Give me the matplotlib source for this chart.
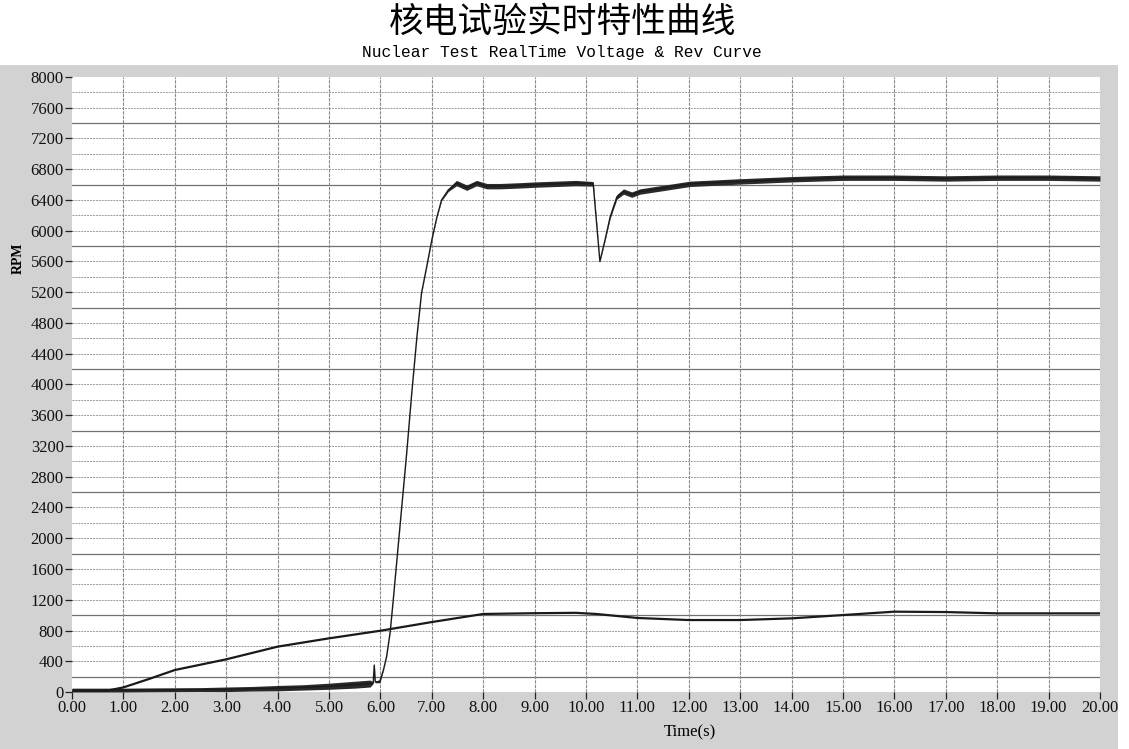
#! /usr/bin/env python3

import numpy as np
import matplotlib
matplotlib.use("Agg")
import matplotlib.pyplot as plt
from matplotlib.patches import Rectangle

# rev curve (RPM): centre of the trace and half-width of its noise band
rev_t = [0.0, 0.5, 1.0, 1.5, 2.0, 2.5, 3.0, 3.5, 4.0, 4.5,
         5.0, 5.5, 5.8, 5.86, 5.88, 5.90, 5.99, 6.06, 6.12, 6.19,
         6.25, 6.41, 6.51, 6.61, 6.71, 6.80, 6.90, 7.00, 7.10, 7.19,
         7.32, 7.48, 7.68, 7.87, 8.07, 8.33, 8.7, 9.0, 9.4, 9.8,
         10.14, 10.27, 10.37, 10.47, 10.60, 10.73, 10.89, 11.05, 11.44, 12.02,
         12.93, 14.0, 15.0, 16.0, 17.0, 18.0, 19.0, 20.0]
rev = [25, 25, 25, 28, 30, 32, 35, 42, 50, 60,
       75, 95, 110, 120, 350, 130, 140, 290, 460, 780,
       1200, 2370, 3100, 3890, 4620, 5190, 5530, 5880, 6180, 6400,
       6530, 6620, 6560, 6620, 6580, 6580, 6590, 6600, 6610, 6620,
       6610, 5600, 5880, 6180, 6440, 6510, 6470, 6510, 6550, 6610,
       6640, 6670, 6690, 6690, 6680, 6690, 6690, 6680]
rev_spread = [25, 25, 25, 25, 25, 25, 30, 30, 35, 35,
              40, 45, 45, 10, 10, 10, 20, 5, 5, 5,
              5, 5, 5, 5, 5, 5, 5, 5, 5, 10,
              20, 35, 35, 35, 35, 35, 35, 35, 35, 35,
              30, 5, 10, 20, 30, 35, 35, 35, 35, 35,
              35, 35, 35, 35, 35, 35, 35, 35]

# voltage curve (smooth lower trace)
volt_t = [0, 0.55, 1.0, 1.5, 2.0, 3.0, 4.0, 5.0, 6.0, 7.0, 8.0, 9.0, 9.8, 10.2,
          11.0, 12.0, 13.0, 14.0, 15.0, 16.0, 17.0, 18.0, 19.0, 20.0]
volt = [0, 0, 60, 170, 286, 425, 590, 698, 797, 910, 1015, 1025, 1030, 1015,
        963, 936, 936, 958, 1001, 1045, 1040, 1023, 1023, 1023]

x_ticks = np.arange(0, 21, 1)
y_ticks = np.arange(0, 8001, 400)

title = "核电试验实时特性曲线"
subtitle = "Nuclear Test RealTime Voltage & Rev Curve"

serif = ["Liberation Serif", "DejaVu Serif"]

fig = plt.figure(figsize=(11.29, 7.49), dpi=100)
fig.patch.set_facecolor("white")
# grey panel behind the plot
fig.patches.append(Rectangle((0, 0), 0.990, 0.913, transform=fig.transFigure,
                             facecolor="#d2d2d2", edgecolor="none", zorder=-5))

ax = fig.add_axes([0.0638, 0.0761, 0.9105, 0.8211])
ax.set_zorder(1)
ax.set_facecolor("white")
ax.set_xlim(0, 20)
ax.set_ylim(0, 8000)

# grid: fine dotted every 200, darker solid every 800, vertical every second
for yv in np.arange(200, 8000, 200):
    if (yv - 200) % 800 == 0:
        ax.axhline(yv, color="#707070", lw=0.9, zorder=1)
    else:
        ax.axhline(yv, color="#9a9a9a", lw=0.7, ls=(0, (2, 1)), zorder=1)
for xv in x_ticks[1:-1]:
    ax.axvline(xv, color="#8a8a8a", lw=0.8, ls=(0, (3, 1)), zorder=1)

ax.fill_between(rev_t, np.array(rev) - np.array(rev_spread),
                np.array(rev) + np.array(rev_spread),
                color="#2a2a2a", lw=0, zorder=2)
ax.plot(rev_t, rev, color="#1a1a1a", lw=1.0, zorder=3)
ax.plot(volt_t, volt, color="#1a1a1a", lw=1.6, zorder=3)

ax.set_xticks(x_ticks)
ax.set_xticklabels(["%.2f" % v for v in x_ticks], fontfamily=serif, fontsize=12)
ax.set_yticks(y_ticks)
ax.set_yticklabels(["%d" % v for v in y_ticks], fontfamily=serif, fontsize=12)
ax.tick_params(direction="out", length=5, width=0.9, color="#222222", pad=1,
               labelcolor="#111111")
for s in ax.spines.values():
    s.set_visible(False)

fig.text(18 / 1129, 1 - 258 / 749, "RPM", rotation=90, ha="center", va="center",
         fontfamily=serif, fontsize=10, fontweight="bold")
fig.text(690 / 1129, 1 - 732 / 749, "Time(s)", ha="center", va="center",
         fontfamily=serif, fontsize=12)

fig.text(563 / 1129, 1 - 22 / 749, title, ha="center", va="center",
         fontfamily=["Noto Sans CJK SC", "DejaVu Sans"], fontsize=25)
fig.text(562 / 1129, 1 - 53 / 749, subtitle, ha="center", va="center",
         fontfamily=["Liberation Mono", "DejaVu Sans Mono"], fontsize=11.7)

fig.savefig("out.png", dpi=100, facecolor=fig.get_facecolor())
